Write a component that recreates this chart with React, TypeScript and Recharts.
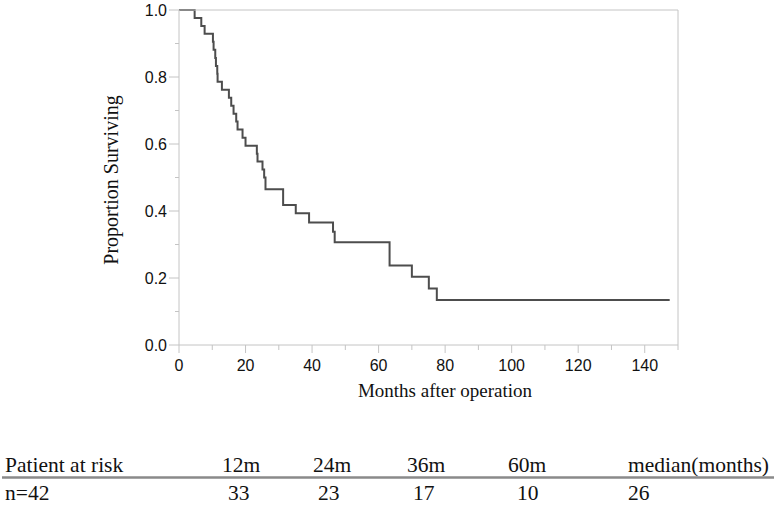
import React from 'react';
import { LineChart, Line, XAxis, YAxis, ReferenceLine } from 'recharts';

// Kaplan-Meier step points (months, proportion surviving)
const months = [0, 4.7, 6.7, 7.7, 10.2, 10.4, 10.9, 11.1, 11.5, 11.6, 12.9, 15.0, 15.7, 16.4, 17.2, 17.6, 19.1, 20.0, 23.4, 23.6, 25.1, 25.6, 26.0, 31.3, 35.1, 39.1, 46.3, 46.8, 63.3, 70.0, 75.1, 77.5, 147.5];
const surviving = [1, 0.976, 0.952, 0.929, 0.905, 0.881, 0.857, 0.833, 0.81, 0.786, 0.762, 0.738, 0.714, 0.69, 0.667, 0.643, 0.619, 0.595, 0.571, 0.548, 0.524, 0.5, 0.465, 0.418, 0.393, 0.366, 0.338, 0.307, 0.237, 0.204, 0.169, 0.134, 0.134];

const xTicks = [0, 10, 20, 30, 40, 50, 60, 70, 80, 90, 100, 110, 120, 130, 140, 150];
const yTicks = [0, 0.1, 0.2, 0.3, 0.4, 0.5, 0.6, 0.7, 0.8, 0.9, 1.0];

const riskHeader = 'Patient at risk';
const riskTimes = ['12m', '24m', '36m', '60m'];
const riskCounts = [33, 23, 17, 10];
const medianHeader = 'median(months)';
const medianValue = 26;
const totalLabel = 'n=42';

const data = months.map((t, i) => ({ t, s: surviving[i] }));

const AXIS = '#c4c4c4';
const SANS = '"Liberation Sans", Arial, sans-serif';
const SERIF = '"Liberation Serif", "Times New Roman", serif';

const XTick = (props: any) => {
  const { x, y, payload } = props;
  const v = payload.value;
  const major = v % 20 === 0 && v <= 140;
  return (
    <g>
      <line x1={x} y1={y} x2={x} y2={y + (major ? 8 : 5)} stroke={AXIS} strokeWidth={1} />
      {major && (
        <text x={x} y={y + 15} dy="0.71em" textAnchor="middle" fontFamily={SANS} fontSize={16} fill="#111">
          {v}
        </text>
      )}
    </g>
  );
};

const YTick = (props: any) => {
  const { x, y, payload } = props;
  const v = payload.value;
  const major = Math.round(v * 10) % 2 === 0;
  return (
    <g>
      <line x1={x - (major ? 10 : 4)} y1={y} x2={x} y2={y} stroke={AXIS} strokeWidth={1} />
      {major && (
        <text x={x - 12} y={y} dy="0.355em" textAnchor="end" fontFamily={SANS} fontSize={16} fill="#111">
          {v.toFixed(1)}
        </text>
      )}
    </g>
  );
};

const headerX = [222, 313, 407, 508];
const countX = [228, 318, 413, 517];

export default function App() {
  return (
    <div style={{ position: 'absolute', left: 0, top: 0, width: 774, height: 507, background: '#fff' }}>
      <LineChart width={774} height={420} data={data} margin={{ top: 10, right: 96, left: 0, bottom: 0 }}>
        <XAxis
          dataKey="t"
          type="number"
          domain={[0, 150]}
          ticks={xTicks}
          interval={0}
          height={75}
          tickSize={0}
          tickMargin={0}
          tickLine={false}
          axisLine={{ stroke: AXIS }}
          tick={<XTick />}
          label={{
            content: () => (
              <text x={445} y={397} textAnchor="middle" fontFamily={SERIF} fontSize={19} fill="#111">
                Months after operation
              </text>
            ),
          }}
        />
        <YAxis
          type="number"
          domain={[0, 1]}
          ticks={yTicks}
          interval={0}
          width={179}
          tickSize={0}
          tickMargin={0}
          tickLine={false}
          axisLine={{ stroke: AXIS }}
          tick={<YTick />}
          label={{
            content: () => (
              <text x={118} y={180} transform="rotate(-90 118 180)" textAnchor="middle" fontFamily={SERIF} fontSize={20} fill="#111">
                Proportion Surviving
              </text>
            ),
          }}
        />
        <Line
          dataKey="s"
          type="stepAfter"
          stroke="#4d4d4d"
          strokeWidth={2}
          dot={false}
          activeDot={false}
          isAnimationActive={false}
        />
        <ReferenceLine y={1} stroke={AXIS} strokeWidth={1} />
        <ReferenceLine x={150} stroke={AXIS} strokeWidth={1} />
      </LineChart>
      <svg width={774} height={507} style={{ position: 'absolute', left: 0, top: 0 }}>
        <g fontFamily={SERIF} fontSize={21.5} fill="#111">
          <text x={5} y={472}>{riskHeader}</text>
          {riskTimes.map((h, i) => (
            <text key={h} x={headerX[i]} y={472}>{h}</text>
          ))}
          <text x={628} y={472}>{medianHeader}</text>
          <text x={5} y={500}>{totalLabel}</text>
          {riskCounts.map((c, i) => (
            <text key={i} x={countX[i]} y={500}>{c}</text>
          ))}
          <text x={628} y={500}>{medianValue}</text>
        </g>
        <line x1={2} y1={477.5} x2={774} y2={477.5} stroke="#8a8a8a" strokeWidth={2.5} />
      </svg>
    </div>
  );
}
